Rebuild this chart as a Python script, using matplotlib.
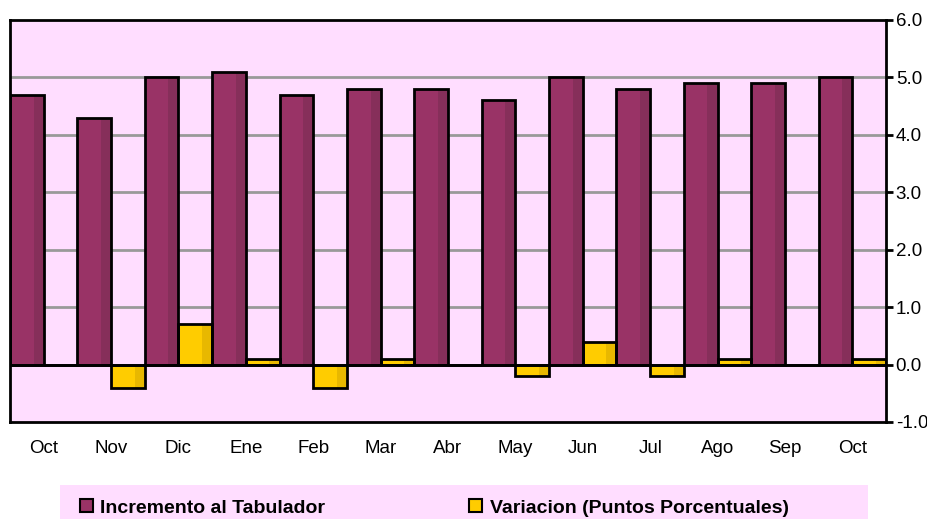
import matplotlib
matplotlib.use("Agg")
import matplotlib.pyplot as plt
import numpy as np
from matplotlib.patches import Patch, Rectangle

plt.rcParams['font.family'] = ['Liberation Sans', 'DejaVu Sans']

months = ["Oct", "Nov", "Dic", "Ene", "Feb", "Mar", "Abr", "May", "Jun", "Jul", "Ago", "Sep", "Oct"]
incremento = [4.7, 4.3, 5.0, 5.1, 4.7, 4.8, 4.8, 4.6, 5.0, 4.8, 4.9, 4.9, 5.0]
variacion = [0.0, -0.4, 0.7, 0.1, -0.4, 0.1, 0.0, -0.2, 0.4, -0.2, 0.1, 0.0, 0.1]
yticks = [-1.0, 0.0, 1.0, 2.0, 3.0, 4.0, 5.0, 6.0]

pink = "#FFDDFF"
maroon, maroon_dk = "#993366", "#862F5A"
yellow, yellow_dk = "#FFCC00", "#E8B800"

fig = plt.figure(figsize=(9.28, 5.19), dpi=100)
ax = fig.add_axes([10 / 928, 1 - 422 / 519, 876 / 928, 402 / 519])
ax.set_facecolor(pink)

x = np.arange(len(months))
w = 0.5

for vals, off, c, cd in [(incremento, -0.25, maroon, maroon_dk), (variacion, 0.25, yellow, yellow_dk)]:
    ax.bar(x + off, vals, w, color=c, edgecolor="none", zorder=2)
    # darker strip on right side for the 3D look
    ax.bar(x + off + w * 0.2, vals, w * 0.3, align="edge", color=cd, edgecolor="none", zorder=3)
    ax.bar(x + off, vals, w, facecolor="none", edgecolor="black", linewidth=2, zorder=4)

ax.axhline(0, color="black", linewidth=2, zorder=5)
for y in yticks:
    if 0 < y < 6:
        ax.axhline(y, color="#999999", linewidth=2, zorder=1)

ax.set_xlim(-0.5, len(months) - 0.5)
ax.set_ylim(-1.0, 6.0)
ax.set_xticks(x)
ax.set_xticklabels(months, fontsize=13.5)
ax.tick_params(axis="x", length=0, pad=13)
ax.yaxis.tick_right()
ax.set_yticks(yticks)
ax.set_yticklabels(["%.1f" % v for v in yticks], fontsize=13.5)
ax.tick_params(axis="y", length=5, width=2, direction="out", pad=2)
for s in ax.spines.values():
    s.set_linewidth(2)
    s.set_zorder(6)

# legend background band
fig.patches.append(Rectangle((60 / 928, 0), 808 / 928, 34 / 519, transform=fig.transFigure,
                             facecolor=pink, edgecolor="none", zorder=0))
handles = [Patch(facecolor=maroon, edgecolor="black", linewidth=1.5),
           Patch(facecolor=yellow, edgecolor="black", linewidth=1.5)]
fig.legend(handles, ["Incremento al Tabulador", "Variacion (Puntos Porcentuales)"],
           loc="center left", bbox_to_anchor=(80 / 928, 1 - 508 / 519),
           ncol=2, frameon=False, prop={"weight": "bold", "size": 14},
           handlelength=0.65, handleheight=0.65, handletextpad=0.4,
           columnspacing=7.4, borderpad=0, borderaxespad=0)

fig.savefig("out.png", dpi=100)
